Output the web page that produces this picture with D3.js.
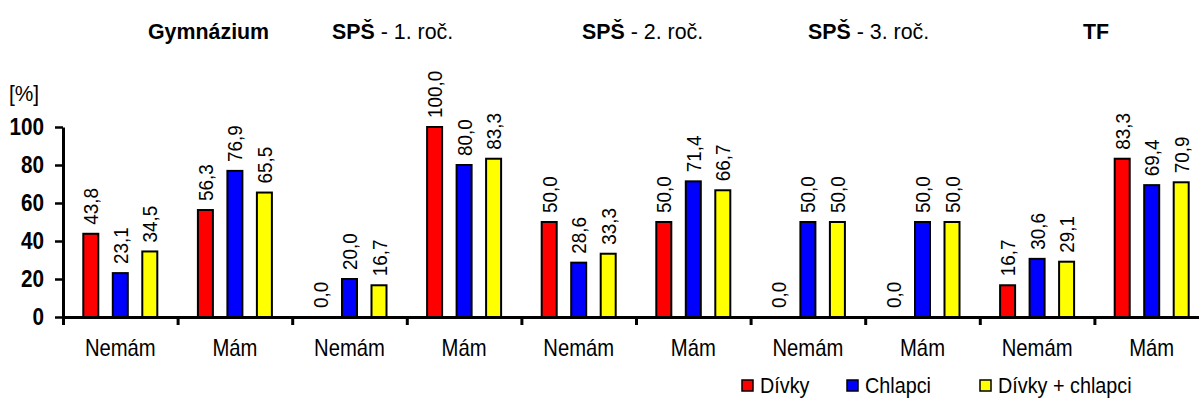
<!DOCTYPE html>
<html>
<head>
<meta charset="utf-8">
<script src="https://cdn.jsdelivr.net/npm/d3@7"></script>
<style>
  html, body { margin: 0; padding: 0; background: #fff; }
  svg { display: block; font-family: "Liberation Sans", Arial, sans-serif; }
</style>
</head>
<body>
<svg id="chart" width="1199" height="405"></svg>
<script>
// Categories along the x axis (pairs per school type)
const categories = ["Nemám", "Mám", "Nemám", "Mám", "Nemám", "Mám", "Nemám", "Mám", "Nemám", "Mám"];
const series = ["Dívky", "Chlapci", "Dívky + chlapci"];
const colors = ["#ff0000", "#0000ff", "#ffff00"];

// Percentages per category, one array per series
const divky    = [43.8, 56.3, 0.0, 100.0, 50.0, 50.0, 0.0, 0.0, 16.7, 83.3];
const chlapci  = [23.1, 76.9, 20.0, 80.0, 28.6, 71.4, 50.0, 50.0, 30.6, 69.4];
const obe      = [34.5, 65.5, 16.7, 83.3, 33.3, 66.7, 50.0, 50.0, 29.1, 70.9];
const seriesValues = [divky, chlapci, obe];

const yTicks = [0, 20, 40, 60, 80, 100];

// Group headings: bold part + regular part
const groupTitles = [
  { bold: "Gymnázium", rest: "", x: 148 },
  { bold: "SPŠ", rest: " - 1. roč.", x: 332 },
  { bold: "SPŠ", rest: " - 2. roč.", x: 582 },
  { bold: "SPŠ", rest: " - 3. roč.", x: 808 },
  { bold: "TF", rest: "", x: 1083 }
];

const svg = d3.select("#chart");

const left = 63, step = 114.6;
const y0 = 317, y100 = 127;

const x = d3.scaleBand()
  .domain(d3.range(categories.length))
  .range([left, left + step * categories.length])
  .padding(0);

const xEdge = d3.scaleLinear()
  .domain([0, categories.length])
  .range([left, left + step * categories.length]);

const xs = d3.scalePoint().domain(d3.range(series.length)).range([-29.5, 29.5]);

const y = d3.scaleLinear().domain([0, 100]).range([y0, y100]);

const barW = 15;

// Bars
const rows = [];
categories.forEach((c, i) => {
  series.forEach((s, j) => rows.push({ i, j, v: seriesValues[j][i] }));
});

svg.append("g").selectAll("rect")
  .data(rows.filter(d => d.v > 0))
  .join("rect")
  .attr("x", d => x(d.i) + x.bandwidth() / 2 + xs(d.j) - barW / 2)
  .attr("y", d => y(d.v))
  .attr("width", barW)
  .attr("height", d => y0 - y(d.v))
  .attr("fill", d => colors[d.j])
  .attr("stroke", "#000")
  .attr("stroke-width", 2);

// Value labels, rotated, slightly condensed
svg.append("g").selectAll("text")
  .data(rows)
  .join("text")
  .attr("transform", d => {
    const cx = x(d.i) + x.bandwidth() / 2 + xs(d.j) + 7.5;
    const cy = y(d.v) - 9;
    return `translate(${cx},${cy}) rotate(-90) scale(0.9,1)`;
  })
  .attr("font-size", 21)
  .attr("fill", "#000")
  .text(d => d.v.toFixed(1).replace(".", ","));

// Y axis
const yAxis = svg.append("g")
  .attr("transform", `translate(${left},0)`)
  .call(d3.axisLeft(y).tickValues(yTicks).tickSize(8).tickPadding(11).tickSizeOuter(0));
yAxis.select(".domain").attr("stroke", "#000").attr("stroke-width", 3);
yAxis.selectAll(".tick line").attr("stroke", "#000").attr("stroke-width", 2.5);
yAxis.selectAll(".tick text")
  .attr("font-family", "Liberation Sans, Arial, sans-serif")
  .attr("font-size", 23).attr("font-weight", "bold").attr("fill", "#000")
  .attr("x", null)
  .attr("transform", "translate(-19,0) scale(0.9,1)");

// X axis line with boundary ticks
const xAxis = svg.append("g")
  .attr("transform", `translate(0,${y0})`)
  .call(d3.axisBottom(xEdge).tickValues(d3.range(categories.length)).tickSize(8).tickFormat("").tickSizeOuter(0));
xAxis.select(".domain").attr("stroke", "#000").attr("stroke-width", 3);
xAxis.selectAll(".tick line").attr("stroke", "#000").attr("stroke-width", 3);

// Category labels
svg.append("g").selectAll("text")
  .data(categories)
  .join("text")
  .attr("transform", (d, i) => `translate(${x(i) + x.bandwidth() / 2},356) scale(0.88,1)`)
  .attr("text-anchor", "middle")
  .attr("font-size", 23)
  .text(d => d);

// Unit label
svg.append("text")
  .attr("transform", "translate(9,101) scale(0.95,1)")
  .attr("font-size", 22).text("[%]");

// Group headings
const tg = svg.append("g").selectAll("text")
  .data(groupTitles)
  .join("text")
  .attr("transform", d => `translate(${d.x},39) scale(0.93,1)`)
  .attr("font-size", 23);
tg.append("tspan").attr("font-weight", "bold").text(d => d.bold);
tg.append("tspan").text(d => d.rest);

// Legend
const legendX = [742, 847, 980];
const lg = svg.append("g").selectAll("g")
  .data(series)
  .join("g")
  .attr("transform", (d, i) => `translate(${legendX[i]},380)`);
lg.append("rect").attr("width", 11).attr("height", 11)
  .attr("fill", (d, i) => colors[i]).attr("stroke", "#000").attr("stroke-width", 1.5);
lg.append("text")
  .attr("transform", "translate(18,13) scale(0.9,1)")
  .attr("font-size", 22).text(d => d);
</script>
</body>
</html>
